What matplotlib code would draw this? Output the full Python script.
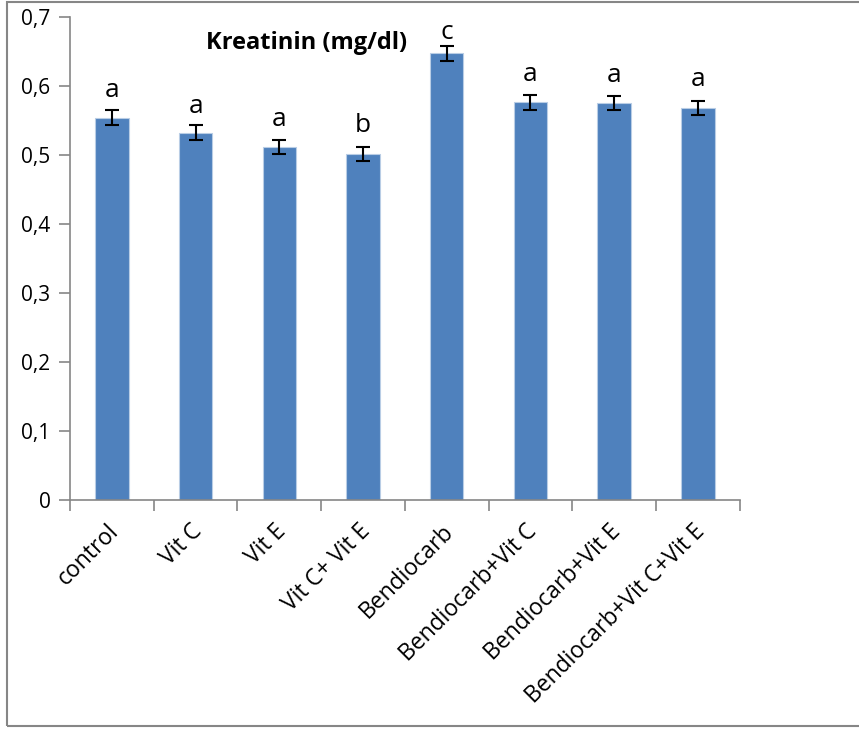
import matplotlib
matplotlib.use("Agg")
import matplotlib.pyplot as plt
from matplotlib.patches import Rectangle
from matplotlib.transforms import ScaledTranslation

groups = ["control", "Vit C", "Vit E", "Vit C+ Vit E", "Bendiocarb",
          "Bendiocarb+Vit C", "Bendiocarb+Vit E", "Bendiocarb+Vit C+Vit E"]
kreatinin = [0.554, 0.532, 0.511, 0.501, 0.647, 0.576, 0.575, 0.568]
errors = [0.0105, 0.0105, 0.0105, 0.0105, 0.0105, 0.0105, 0.0105, 0.0105]
letters = ["a", "a", "a", "b", "c", "a", "a", "a"]
yticks = [0, 0.1, 0.2, 0.3, 0.4, 0.5, 0.6, 0.7]
ytick_labels = ["0", "0,1", "0,2", "0,3", "0,4", "0,5", "0,6", "0,7"]

plt.rcParams['font.family'] = ['Open Sans', 'DejaVu Sans']
axis_grey = "#868686"

fig = plt.figure(figsize=(8.59, 7.29), dpi=100)
ax = fig.add_axes([70 / 859, 1 - 500 / 729, 669.7 / 859, 483.3 / 729])

x = list(range(len(groups)))
ax.bar(x, kreatinin, width=0.4, color="#4F81BD", edgecolor="#B9CDE5", linewidth=0.8,
       yerr=errors, error_kw=dict(ecolor="black", elinewidth=1.5, capsize=5, capthick=1.5))

# letter offsets above bar top, in pixels
offsets = [27, 26, 28, 29, 21, 28, 28, 28]
for xi, val, lab, off in zip(x, kreatinin, letters, offsets):
    ax.annotate(lab, (xi, val), xytext=(0, off), textcoords="offset pixels",
                ha="center", va="center", fontsize=19)

ax.set_xlim(-0.5, len(groups) - 0.5)
ax.set_ylim(0, 0.7)
ax.set_yticks(yticks)
ax.set_yticklabels(ytick_labels, fontsize=15)

ax.set_xticks([i - 0.5 for i in range(len(groups) + 1)], minor=False)
ax.set_xticklabels([])
ax.set_xticks(x, minor=True)
ax.set_xticklabels(groups, minor=True, rotation=45, ha="right", va="top",
                   rotation_mode="anchor", fontsize=16.5)
ax.tick_params(axis="x", which="minor", length=0, pad=14)
ax.tick_params(axis="x", which="major", length=8, color=axis_grey, width=1.2)
ax.tick_params(axis="y", length=8, color=axis_grey, width=1.2, pad=6)

shift = ScaledTranslation(-5 / 100, 0, fig.dpi_scale_trans)
for lbl in ax.get_xticklabels(minor=True):
    lbl.set_transform(lbl.get_transform() + shift)

for side in ["top", "right"]:
    ax.spines[side].set_visible(False)
for side in ["left", "bottom"]:
    ax.spines[side].set_color(axis_grey)
    ax.spines[side].set_linewidth(1.2)

ax.text(307 / 859, 1 - 43 / 729, "Kreatinin (mg/dl)", transform=fig.transFigure,
        ha="center", va="center", fontsize=17, fontweight="bold")

fig.patches.append(Rectangle((7 / 859, 3 / 729), 1.0, 724 / 729, transform=fig.transFigure,
                             fill=False, edgecolor=axis_grey, linewidth=1.5))

fig.savefig("out.png", dpi=100)
